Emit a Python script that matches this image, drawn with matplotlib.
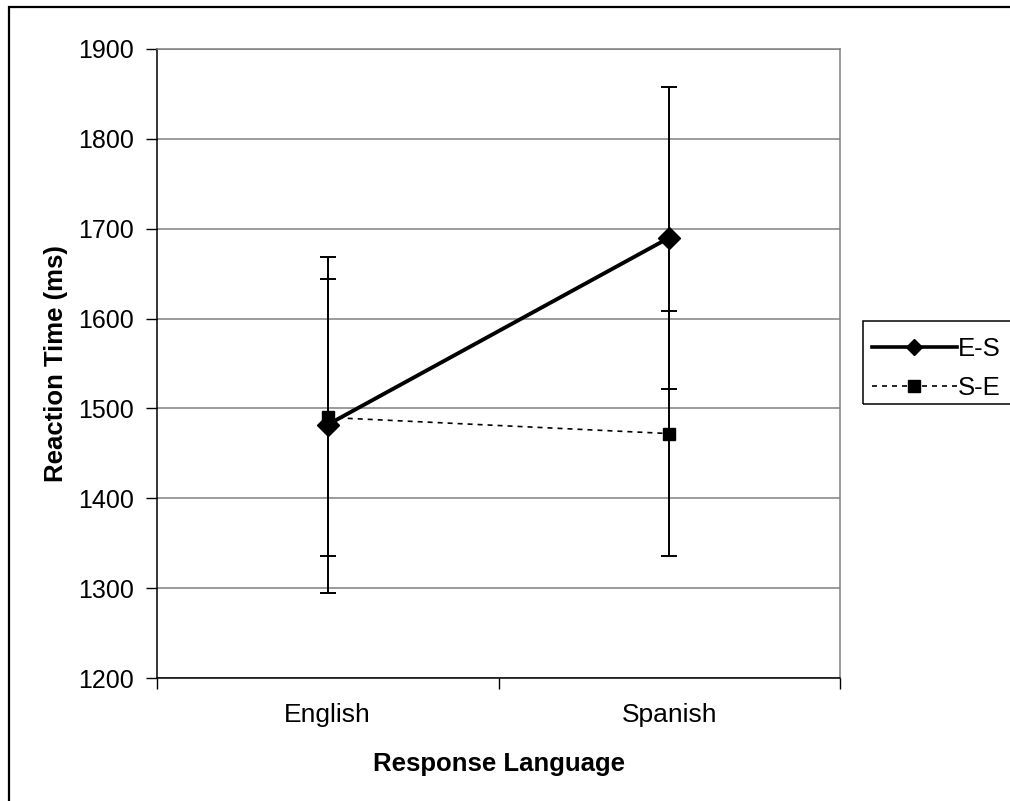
import matplotlib.pyplot as plt
import matplotlib.patches as mpatches
from matplotlib.lines import Line2D

plt.rcParams['font.family'] = ['Liberation Sans', 'DejaVu Sans']

# dados
idiomas = ['English', 'Spanish']
es_media = [1482, 1690]
es_erro = [187, 168]
se_media = [1490, 1472]
se_erro = [154, 136]

W, H = 1010, 801
fig = plt.figure(figsize=(W/100, H/100), dpi=100)
ax = fig.add_axes([157/W, 1 - 678/H, (840-157)/W, (678-49)/H])

x = [0.5, 1.5]

# moldura externa (cortada a direita e embaixo)
fig.patches.append(mpatches.Rectangle((9/W, -0.1), 1.2, 1 - 7/H + 0.1,
                                      transform=fig.transFigure, fill=False,
                                      edgecolor='black', linewidth=1.6))

ax.errorbar(x, es_media, yerr=es_erro, color='black', linewidth=2.8,
            marker='D', markersize=11, capsize=5.5, elinewidth=1.4,
            capthick=1.4, zorder=3)
ax.errorbar(x, se_media, yerr=se_erro, color='black', linewidth=1.2,
            linestyle=(0, (3, 3)), marker='s', markersize=8.5, capsize=5.5,
            elinewidth=1.4, capthick=1.4, zorder=3)

ax.set_xlim(0, 2)
ax.set_ylim(1200, 1900)
ax.set_yticks(range(1200, 2000, 100))
ax.set_xticks([0, 1, 2])
ax.set_xticklabels([])
ax.set_xticks(x, minor=True)
ax.set_xticklabels(idiomas, minor=True, fontsize=19)
ax.tick_params(axis='x', which='minor', length=0, pad=18)
ax.tick_params(axis='x', which='major', length=8, direction='out', width=1)
ax.tick_params(axis='y', length=8, direction='out', labelsize=18, pad=8.5, width=1)

ax.grid(axis='y', color='#808080', linewidth=1.1)
ax.set_axisbelow(True)
for s in ['top', 'right']:
    ax.spines[s].set_color('#808080')
    ax.spines[s].set_linewidth(1.1)
ax.spines['left'].set_linewidth(1.1)
ax.spines['bottom'].set_linewidth(1.1)

ax.set_ylabel('Reaction Time (ms)', fontsize=18.5, fontweight='bold', labelpad=7.5)
ax.set_xlabel('Response Language', fontsize=18.5, fontweight='bold', labelpad=18)

# legenda: caixa desenhada a parte, cortada na borda direita
fig.patches.append(mpatches.Rectangle((863/W, 1 - 404/H), 0.5, (404-321)/H,
                                      transform=fig.transFigure, fill=False,
                                      edgecolor='black', linewidth=1.1))
handles = [Line2D([], [], color='black', linewidth=2.6, marker='D', markersize=8.5),
           Line2D([], [], color='black', linewidth=1.2, linestyle=(0, (3, 3)),
                  marker='s', markersize=8.5)]
leg = fig.legend(handles, ['E-S', 'S-E'], loc='upper left',
                 bbox_to_anchor=(872/W, 1 - 337/H), fontsize=18.5, frameon=False,
                 handlelength=3.3, borderaxespad=0, borderpad=0,
                 labelspacing=0.58, handletextpad=0.05)

fig.savefig('out.png', dpi=100, facecolor='white')
